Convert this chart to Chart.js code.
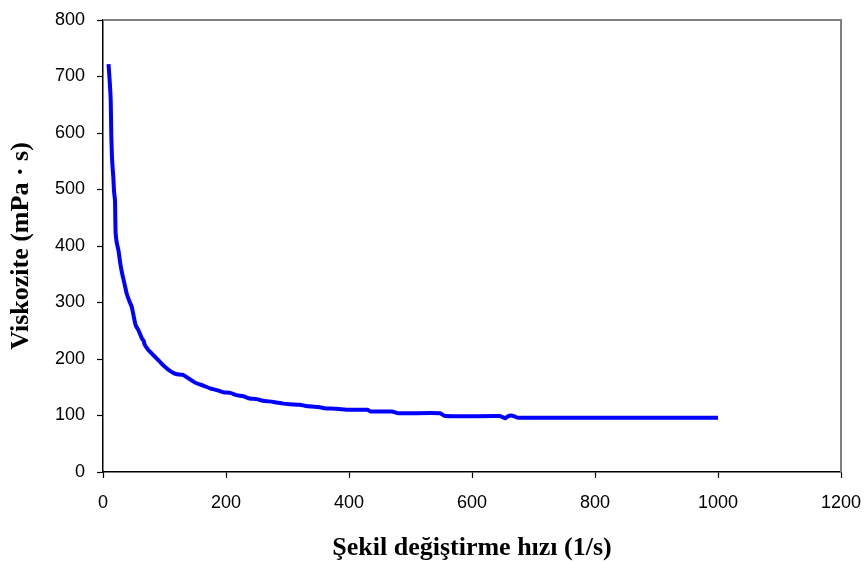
<!DOCTYPE html>
<html>
<head>
<meta charset="utf-8">
<script src="https://cdn.jsdelivr.net/npm/chart.js@4"></script>
<style>
  html, body { margin: 0; padding: 0; background: #fff; }
  #wrap { width: 867px; height: 564px; }
</style>
</head>
<body>
<div id="wrap"><canvas id="c"></canvas></div>
<script>
// shear rate (1/s) and viscosity (mPa·s)
const shearRate = [9, 11, 12.5, 13, 13.5, 14.5, 15.5, 16.7, 18, 19.5, 20, 20.6, 22.5, 25, 28, 31, 35, 38.5, 43, 46.6,
  50, 53, 58, 63, 66, 68, 73.7, 79, 84.5, 90, 95, 102, 109, 115, 120, 130, 140, 152, 163, 174,
  185, 196, 207, 217, 228, 239, 250, 260, 271, 282, 293, 304, 320, 330, 350, 360, 380, 400, 430, 435,
  470, 480, 548, 556, 645, 650, 654, 659, 664, 670, 675, 800, 1000];
const viscosity = [722, 690, 660, 630, 596, 560, 540, 523, 496, 481, 450, 422, 405, 393, 370, 352, 333, 316, 302, 293,
  275, 260, 250, 237, 232, 225, 216, 210, 204, 198, 192, 185, 179, 175, 173, 172, 165, 157, 153, 148,
  145, 141, 140, 136, 134, 130, 129, 126, 125, 123, 121, 120, 119, 117, 115, 113, 112, 110, 110, 107,
  107, 104, 104, 99, 99, 97, 95, 99, 100, 98, 96, 96, 96];
const xTicks = [0, 200, 400, 600, 800, 1000, 1200];
const yTicks = [0, 100, 200, 300, 400, 500, 600, 700, 800];

const points = shearRate.map((x, i) => ({ x: x, y: viscosity[i] }));

// gray frame on the top and right side of the plot area
const frame = {
  id: "frame",
  afterDraw(chart) {
    const { ctx, chartArea: a } = chart;
    ctx.save();
    ctx.strokeStyle = "#808080";
    ctx.lineWidth = 2;
    ctx.beginPath();
    ctx.moveTo(a.left, a.top);
    ctx.lineTo(a.right, a.top);
    ctx.lineTo(a.right, a.bottom);
    ctx.stroke();
    ctx.restore();
  }
};

const tickFont = { family: "Liberation Sans", size: 18 };
const titleFont = { family: "Liberation Serif", size: 26, weight: "bold" };

new Chart(document.getElementById("c"), {
  type: "scatter",
  data: {
    datasets: [{
      data: points,
      showLine: true,
      borderColor: "#0000ff",
      borderWidth: 4,
      pointRadius: 0,
      tension: 0.2,
      fill: false
    }]
  },
  options: {
    responsive: true,
    maintainAspectRatio: false,
    animation: false,
    layout: { padding: { left: 0, right: 26, top: 20, bottom: 0 } },
    plugins: { legend: { display: false }, tooltip: { enabled: false } },
    scales: {
      x: {
        type: "linear",
        min: 0, max: 1200,
        afterBuildTicks: s => { s.ticks = xTicks.map(v => ({ value: v })); },
        afterFit: s => { s.height = 92; s.paddingLeft = 0; s.paddingRight = 0; },
        grid: { drawOnChartArea: false, color: "#000", tickLength: 6, tickWidth: 1.2 },
        border: { color: "#000", width: 1.5 },
        ticks: { color: "#000", padding: 14, font: tickFont, maxRotation: 0, callback: v => String(v) },
        title: {
          display: true,
          text: "Şekil değiştirme hızı (1/s)",
          color: "#000",
          padding: { top: 0, bottom: 0 },
          font: titleFont
        }
      },
      y: {
        min: 0, max: 800,
        afterBuildTicks: s => { s.ticks = yTicks.map(v => ({ value: v })); },
        afterFit: s => { s.width = 103; s.paddingTop = 0; s.paddingBottom = 0; },
        grid: { drawOnChartArea: false, color: "#000", tickLength: 6, tickWidth: 1.2 },
        border: { color: "#000", width: 1.5 },
        ticks: { color: "#000", padding: 12, font: tickFont, callback: v => String(v) },
        title: {
          display: true,
          text: "Viskozite (mPa · s)",
          color: "#000",
          padding: { top: 6, bottom: 0 },
          font: titleFont
        }
      }
    }
  },
  plugins: [frame]
});
</script>
</body>
</html>
